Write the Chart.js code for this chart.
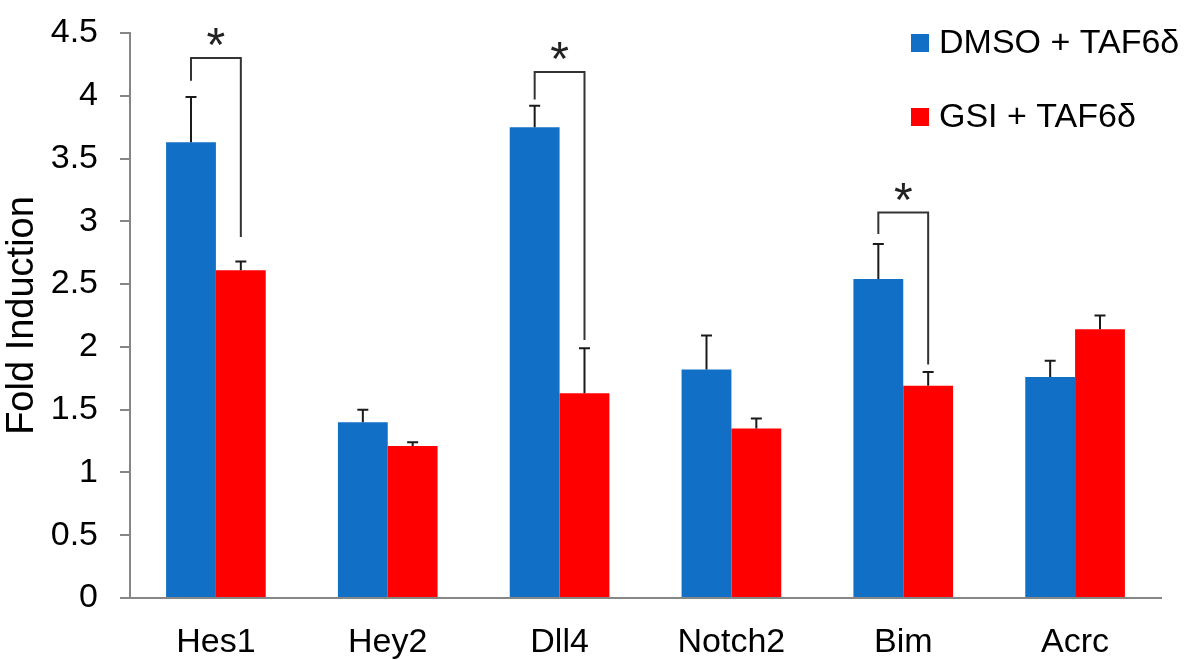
<!DOCTYPE html>
<html>
<head>
<meta charset="utf-8">
<script src="https://cdn.jsdelivr.net/npm/chart.js@4/dist/chart.umd.min.js"></script>
<style>
  html, body { margin: 0; padding: 0; background: #ffffff; }
  #wrap { width: 1186px; height: 660px; }
</style>
</head>
<body>
<div id="wrap"><canvas id="c" width="1186" height="660"></canvas></div>
<script>
// Genes measured
const categories = ['Hes1', 'Hey2', 'Dll4', 'Notch2', 'Bim', 'Acrc'];

// Mean fold induction per condition
const dmsoValues = [3.63, 1.40, 3.75, 1.82, 2.54, 1.76];
const gsiValues  = [2.61, 1.21, 1.63, 1.35, 1.69, 2.14];

// Upper error (SD) per condition
const dmsoErrors = [0.36, 0.10, 0.17, 0.27, 0.28, 0.13];
const gsiErrors  = [0.07, 0.03, 0.36, 0.08, 0.11, 0.11];

// Significance brackets: gene index, bracket top, left leg end, right leg end
const sigGene     = [0, 2, 4];
const sigTop      = [4.30, 4.19, 3.07];
const sigLeftEnd  = [4.12, 3.97, 2.90];
const sigRightEnd = [2.875, 2.055, 1.86];

// Y axis tick values
const yTicks = [0, 0.5, 1, 1.5, 2, 2.5, 3, 3.5, 4, 4.5];

const FONT = "'Liberation Sans', Arial, sans-serif";
const AXIS_COLOR = '#868686';

const errorBars = {
  id: 'errorBars',
  afterDatasetsDraw(chart) {
    const ctx = chart.ctx;
    const y = chart.scales.y;
    const errs = [dmsoErrors, gsiErrors];
    ctx.save();
    ctx.strokeStyle = '#1a1a1a';
    ctx.lineWidth = 2;
    chart.data.datasets.forEach((ds, di) => {
      const meta = chart.getDatasetMeta(di);
      meta.data.forEach((bar, i) => {
        const v = ds.data[i];
        const top = y.getPixelForValue(v + errs[di][i]);
        const base = y.getPixelForValue(v);
        ctx.beginPath();
        ctx.moveTo(bar.x, base);
        ctx.lineTo(bar.x, top);
        ctx.moveTo(bar.x - 5.5, top);
        ctx.lineTo(bar.x + 5.5, top);
        ctx.stroke();
      });
    });
    ctx.restore();
  }
};

const sigBrackets = {
  id: 'sigBrackets',
  afterDatasetsDraw(chart) {
    const ctx = chart.ctx;
    const y = chart.scales.y;
    const m0 = chart.getDatasetMeta(0);
    const m1 = chart.getDatasetMeta(1);
    ctx.save();
    ctx.strokeStyle = '#333333';
    ctx.lineWidth = 2;
    sigGene.forEach((g, k) => {
      const xl = m0.data[g].x;
      const xr = m1.data[g].x;
      const yt = y.getPixelForValue(sigTop[k]);
      ctx.beginPath();
      ctx.moveTo(xl, y.getPixelForValue(sigLeftEnd[k]));
      ctx.lineTo(xl, yt);
      ctx.lineTo(xr, yt);
      ctx.lineTo(xr, y.getPixelForValue(sigRightEnd[k]));
      ctx.stroke();
      // asterisk centred above the bracket
      ctx.font = '48px ' + FONT;
      ctx.fillStyle = '#222222';
      ctx.textAlign = 'center';
      ctx.textBaseline = 'alphabetic';
      const mt = ctx.measureText('*');
      const baseline = yt - 13 - mt.actualBoundingBoxDescent;
      ctx.fillText('*', (xl + xr) / 2, baseline);
    });
    ctx.restore();
  }
};

const sideLegend = {
  id: 'sideLegend',
  afterDraw(chart) {
    const ctx = chart.ctx;
    ctx.save();
    ctx.font = '34px ' + FONT;
    ctx.textBaseline = 'middle';
    ctx.textAlign = 'left';
    chart.data.datasets.forEach((ds, i) => {
      const cy = 43 + i * 74;
      ctx.fillStyle = ds.backgroundColor;
      ctx.fillRect(911, cy - 9, 18, 18);
      ctx.fillStyle = '#000000';
      ctx.fillText(ds.label, 939, cy + 1);
    });
    ctx.restore();
  }
};

new Chart(document.getElementById('c'), {
  type: 'bar',
  data: {
    labels: categories,
    datasets: [
      { label: 'DMSO + TAF6δ', data: dmsoValues, backgroundColor: '#1170C6', borderWidth: 0 },
      { label: 'GSI + TAF6δ', data: gsiValues, backgroundColor: '#FF0000', borderWidth: 0 }
    ]
  },
  options: {
    responsive: false,
    devicePixelRatio: 1,
    animation: false,
    layout: { padding: { top: 33, right: 25, left: 0, bottom: 0 } },
    datasets: { bar: { categoryPercentage: 0.58, barPercentage: 1.0 } },
    plugins: {
      legend: { display: false },
      tooltip: { enabled: false }
    },
    scales: {
      x: {
        grid: { display: false, drawTicks: false },
        border: { display: true, color: AXIS_COLOR, width: 2 },
        ticks: { color: '#000000', font: { family: FONT, size: 34 }, padding: 24 },
        afterFit(s) { s.height = 62; s.paddingLeft = 0; s.paddingRight = 0; }
      },
      y: {
        min: 0,
        max: 4.5,
        afterBuildTicks(s) { s.ticks = yTicks.map(v => ({ value: v })); },
        grid: { drawOnChartArea: false, drawTicks: true, tickLength: 10, color: AXIS_COLOR, lineWidth: 2 },
        border: { display: true, color: AXIS_COLOR, width: 2 },
        ticks: {
          color: '#000000',
          font: { family: FONT, size: 34 },
          padding: 22,
          callback: v => String(v)
        },
        title: {
          display: true,
          text: 'Fold Induction',
          color: '#000000',
          font: { family: FONT, size: 38 },
          padding: { top: 0, bottom: 0 }
        },
        afterFit(s) { s.width = 130; s.paddingTop = 0; s.paddingBottom = 0; }
      }
    }
  },
  plugins: [errorBars, sigBrackets, sideLegend]
});
</script>
</body>
</html>
